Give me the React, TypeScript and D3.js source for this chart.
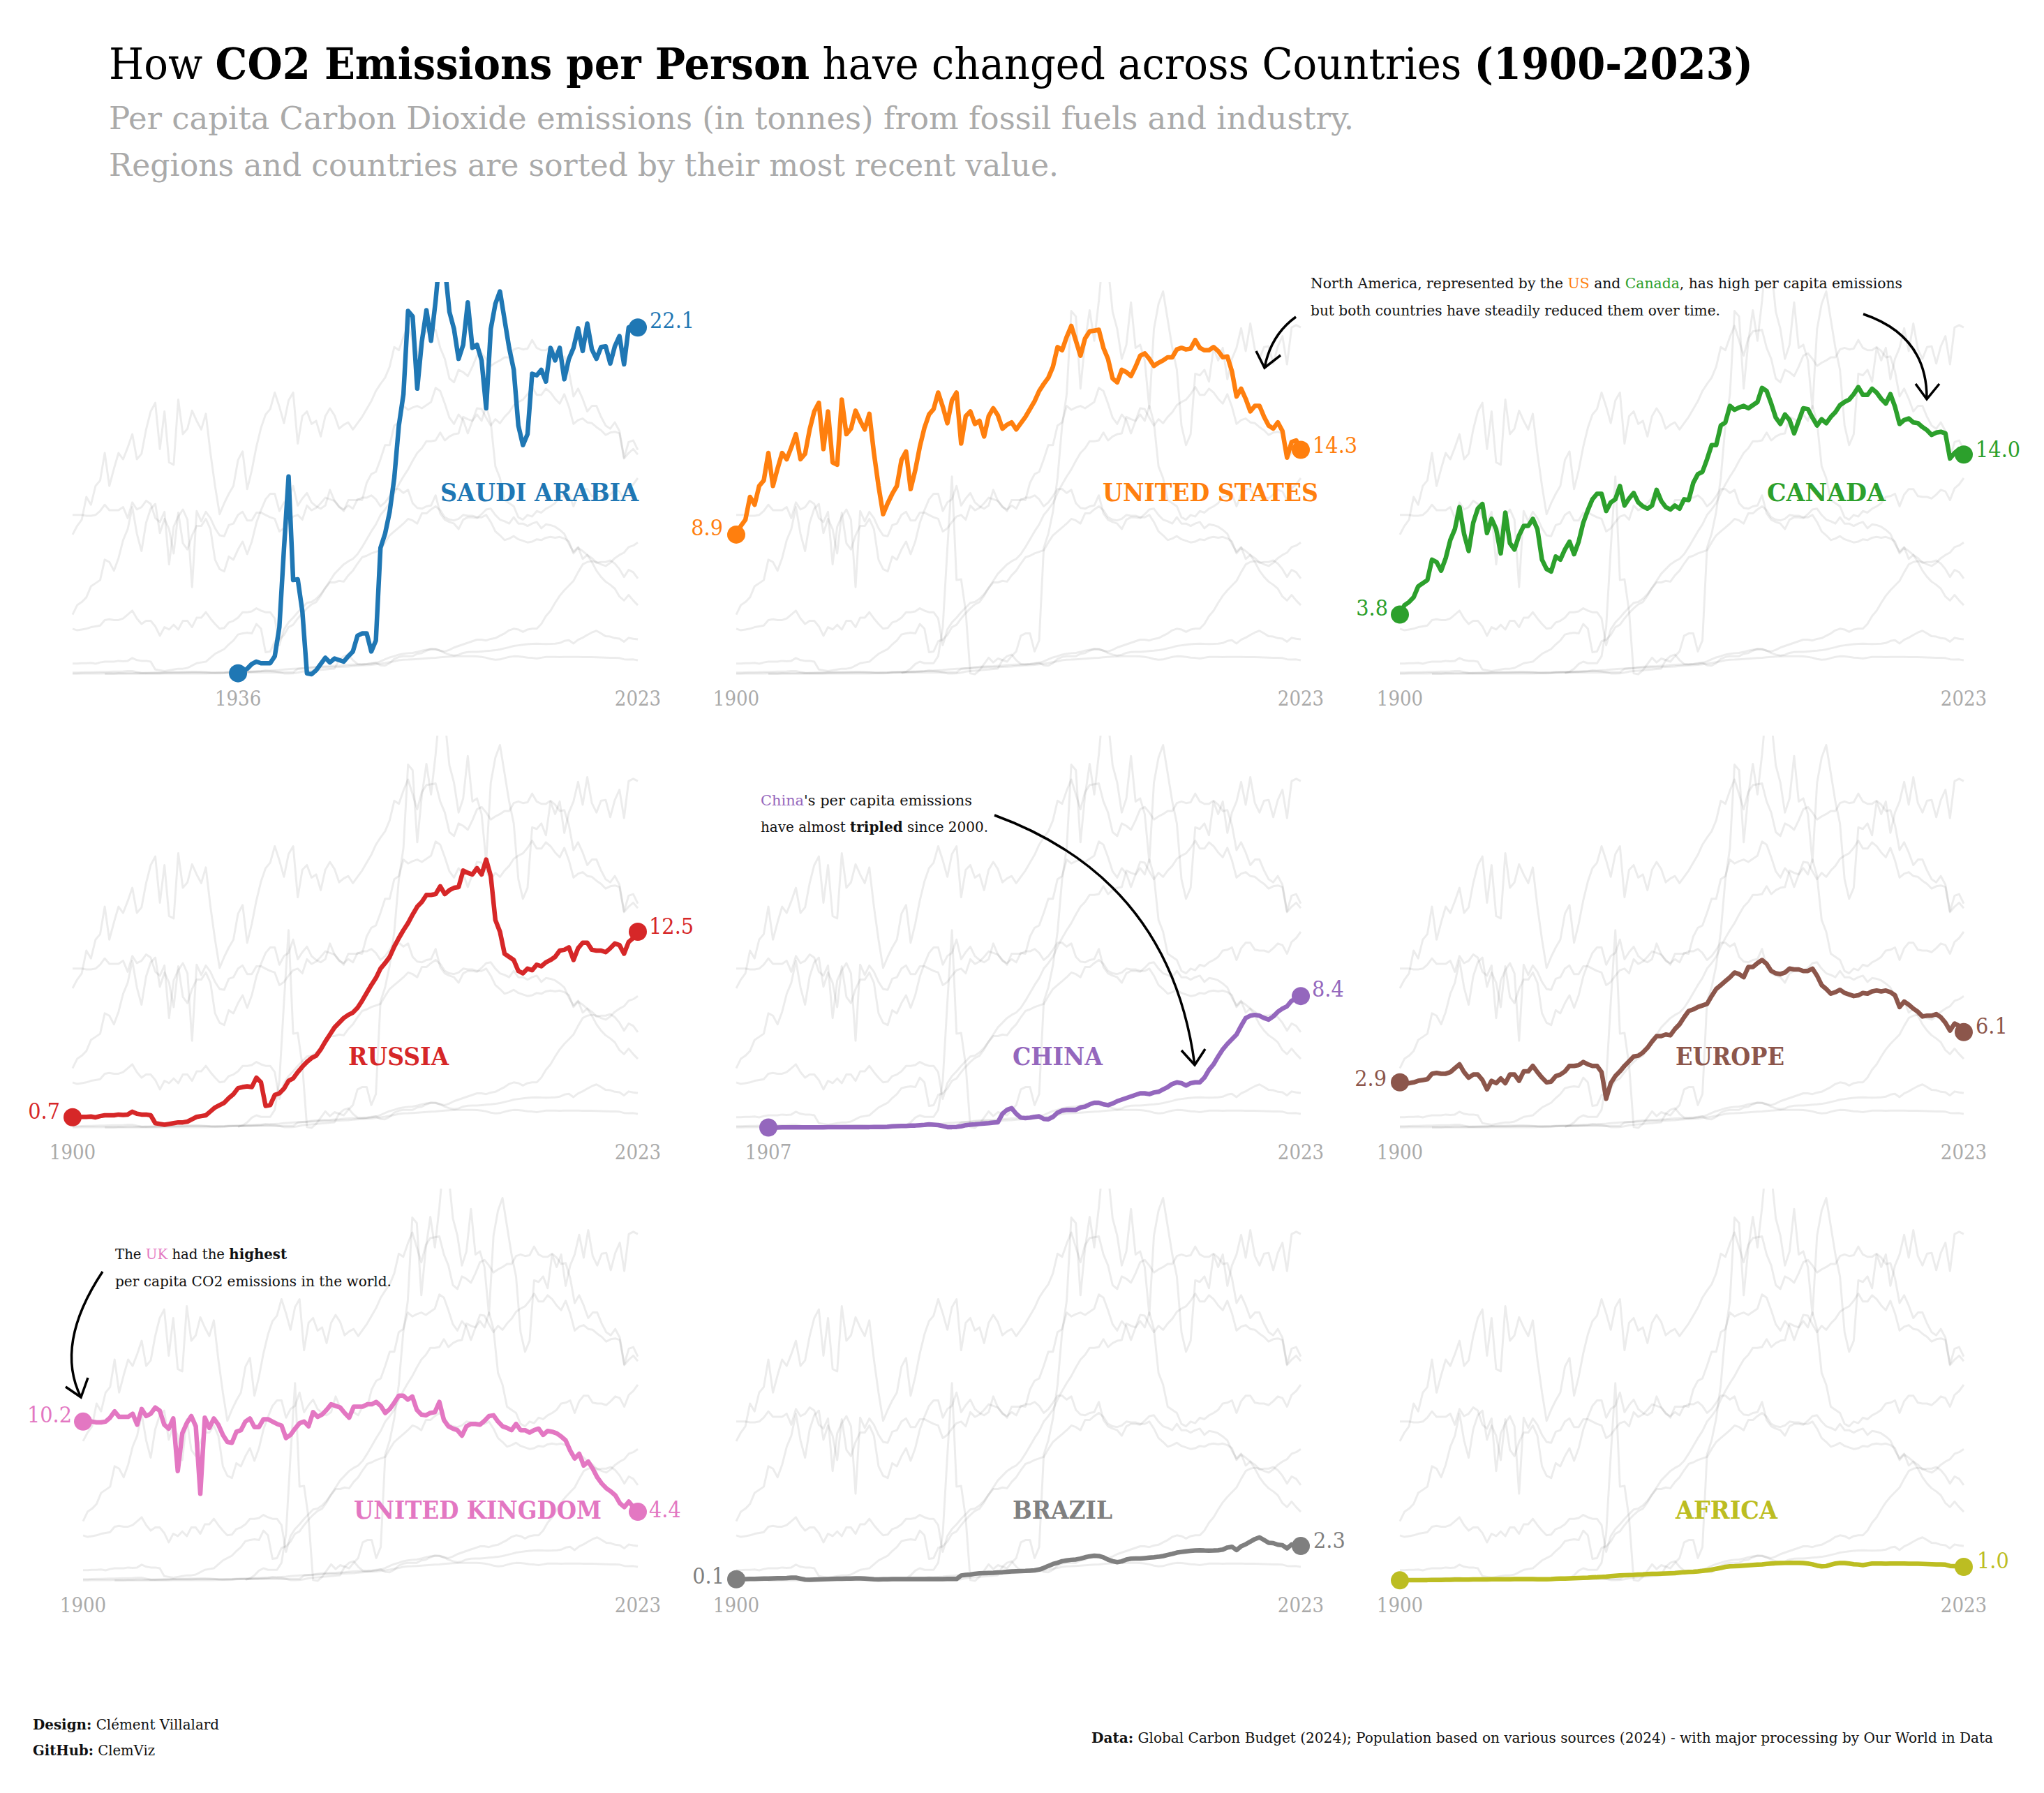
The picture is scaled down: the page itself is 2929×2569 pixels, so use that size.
import * as d3 from 'd3'
import React from 'react'

const W = 2929
const H = 2569

// tonnes of CO2 per person, one value per year
const saudiArabia = [
  0.06, 0.16, 0.35, 0.65, 0.8, 0.7, 0.7, 0.7, 1.15, 3.0, 8.0, 12.6, 6.0, 6.05,
  4.0, 0.05, 0.0, 0.25, 0.65, 1.05, 0.75, 1.0, 0.9, 0.8,
  1.15, 1.45, 2.45, 2.6, 2.6, 1.45, 2.15, 8.05, 8.95, 10.35,
  12.5, 15.85, 17.85, 23.15, 22.8, 18.2, 21.2, 23.2, 21.25, 23.8,
  27.0, 26.0, 23.1, 22.0, 20.1, 21.0, 23.7, 20.8, 21.0, 20.0,
  16.95, 22.0, 23.6, 24.4, 22.6, 20.8, 19.4, 15.85, 14.6, 15.3,
  19.15, 19.05, 19.4, 18.65, 20.8, 20.0, 20.8, 18.8, 20.1, 20.8,
  22.05, 20.6, 22.35, 20.7, 20.1, 20.85, 20.9, 19.8, 20.9, 21.55,
  19.75, 22.1, 22.25, 22.1,
]
const unitedStates = [
  8.9, 9.45, 9.85, 11.3, 10.8, 12.0, 12.35, 14.1, 12.0, 13.1,
  14.1, 13.7, 14.45, 15.3, 13.7, 14.05, 15.6, 16.75, 17.3, 14.35,
  16.75, 13.5, 13.35, 17.5, 15.3, 15.65, 16.8, 16.15, 15.6, 16.6,
  14.1, 12.0, 10.2, 10.9, 11.5, 12.0, 13.65, 14.2, 11.8, 13.0,
  14.5, 15.7, 16.55, 16.9, 17.95, 17.05, 16.0, 17.45, 17.95, 14.7,
  16.45, 16.75, 15.95, 16.15, 15.15, 16.45, 16.95, 16.5, 15.65, 15.9,
  16.05, 15.6, 16.0, 16.4, 16.9, 17.4, 18.05, 18.5, 18.9, 19.6,
  20.85, 20.65, 21.5, 22.2, 21.25, 20.3, 21.4, 21.85, 21.9, 21.95,
  20.8, 20.1, 18.85, 18.6, 19.4, 19.25, 19.0, 19.6, 20.3, 20.45,
  20.1, 19.65, 19.85, 20.0, 20.2, 20.2, 20.7, 20.8, 20.7, 20.75,
  21.3, 20.8, 20.65, 20.65, 20.85, 20.6, 20.2, 20.25, 19.3, 17.7,
  18.2, 17.55, 16.75, 17.1, 17.1, 16.4, 15.85, 15.65, 16.05, 15.5,
  13.8, 14.8, 14.9, 14.3,
]
const canada = [
  3.8, 4.4, 4.6, 4.9, 5.6, 5.8, 6.0, 7.3, 7.15, 6.6,
  7.4, 8.55, 9.25, 10.65, 8.95, 7.85, 9.65, 10.55, 10.85, 9.0,
  9.9, 9.25, 7.7, 10.3, 8.35, 7.95, 8.85, 9.45, 9.45, 9.9,
  9.25, 7.3, 6.7, 6.55, 7.5, 7.3, 7.95, 8.45, 7.65, 8.45,
  9.65, 10.45, 11.15, 11.5, 11.5, 10.4, 10.95, 11.15, 12.0, 10.75,
  11.2, 11.55, 10.95, 10.7, 10.55, 10.75, 11.75, 11.05, 10.65, 10.5,
  10.75, 10.55, 11.15, 11.1, 12.2, 12.75, 12.9, 13.7, 14.6, 14.6,
  15.85, 16.05, 17.1, 16.85, 17.0, 17.1, 16.95, 17.15, 17.35, 18.25,
  18.05, 17.25, 16.35, 15.95, 16.55, 16.2, 15.35, 16.15, 16.95, 16.9,
  16.35, 15.85, 16.25, 16.0, 16.4, 16.7, 17.15, 17.35, 17.5, 17.85,
  18.3, 17.8, 17.8, 18.2, 17.95, 17.55, 17.25, 17.85, 17.05, 15.95,
  16.2, 16.3, 16.05, 16.0, 15.75, 15.55, 15.25, 15.4, 15.45, 15.35,
  13.75, 14.1, 14.35, 14.0,
]
const russia = [
  0.68, 0.68, 0.7, 0.7, 0.72, 0.67, 0.75, 0.8, 0.8, 0.8,
  0.85, 0.82, 0.85, 1.03, 0.9, 0.85, 0.85, 0.8, 0.3, 0.25,
  0.2, 0.25, 0.3, 0.35, 0.35, 0.4, 0.55, 0.7, 0.75, 0.8,
  1.05, 1.3, 1.45, 1.6, 1.9, 2.15, 2.53, 2.6, 2.65, 2.6,
  3.2, 2.9, 1.4, 1.45, 2.1, 2.2, 2.5, 3.0, 3.15, 3.55,
  3.9, 4.2, 4.45, 4.6, 5.0, 5.5, 5.95, 6.4, 6.7, 7.0,
  7.2, 7.35, 7.65, 8.1, 8.6, 9.1, 9.55, 10.15, 10.5, 10.9,
  11.55, 12.1, 12.6, 13.05, 13.6, 14.1, 14.4, 14.85, 14.85, 14.9,
  15.4, 14.9, 15.15, 15.3, 15.35, 16.4, 16.25, 16.15, 16.55, 16.15,
  17.1, 16.05, 13.25, 12.5, 11.1, 10.9, 10.7, 10.0, 9.85, 10.15,
  10.05, 10.4, 10.3, 10.55, 10.7, 10.9, 11.3, 11.35, 11.5, 10.7,
  11.45, 11.8, 11.8, 11.35, 11.3, 11.3, 11.2, 11.45, 11.75, 11.65,
  11.1, 11.85, 12.1, 12.5,
]
const china = [
  0.02, 0.02, 0.02,
  0.03, 0.03, 0.03, 0.03, 0.03, 0.03, 0.03, 0.03, 0.03, 0.03,
  0.04, 0.04, 0.04, 0.04, 0.04, 0.05, 0.05, 0.05, 0.05, 0.05,
  0.06, 0.06, 0.06, 0.07, 0.1, 0.11, 0.12, 0.12, 0.14, 0.15,
  0.17, 0.19, 0.22, 0.2, 0.18, 0.12, 0.05, 0.05, 0.06, 0.1,
  0.17, 0.2, 0.22, 0.25, 0.28, 0.3, 0.33, 0.36, 0.9, 1.15,
  1.25, 0.9, 0.65, 0.62, 0.65, 0.7, 0.73, 0.57, 0.55, 0.7,
  0.97, 1.1, 1.15, 1.15, 1.15, 1.3, 1.35, 1.5, 1.6, 1.6,
  1.5, 1.45, 1.55, 1.7, 1.8, 1.9, 2.0, 2.1, 2.2, 2.2,
  2.15, 2.25, 2.3, 2.45, 2.6, 2.8, 2.9, 2.85, 2.7, 2.85,
  2.9, 2.9, 3.2, 3.7, 4.05, 4.55, 5.0, 5.35, 5.65, 5.95,
  6.5, 7.0, 7.15, 7.2, 7.15, 7.0, 6.9, 7.1, 7.4, 7.6,
  7.75, 8.1, 8.2, 8.4,
]
const europe = [
  2.9, 2.8, 2.85, 2.9, 3.0, 3.05, 3.1, 3.45, 3.5, 3.45,
  3.45, 3.55, 3.8, 4.05, 3.55, 3.2, 3.4, 3.4, 3.05, 2.45,
  3.0, 2.85, 3.15, 2.85, 3.4, 3.4, 3.0, 3.6, 3.6, 3.95,
  3.55, 3.2, 2.9, 2.95, 3.3, 3.4, 3.6, 3.95, 3.95, 4.0,
  4.2, 4.05, 3.95, 3.95, 3.55, 1.85, 2.85, 3.3, 3.6, 3.95,
  4.25, 4.55, 4.6, 4.8, 5.1, 5.5, 5.85, 5.85, 5.95, 5.9,
  6.3, 6.6, 7.05, 7.45, 7.55, 7.7, 7.8, 7.9, 8.4, 8.85,
  9.1, 9.35, 9.6, 9.9, 9.8, 9.6, 10.25, 10.25, 10.5, 10.7,
  10.45, 10.0, 9.85, 9.8, 9.9, 10.15, 10.1, 10.1, 10.0, 10.0,
  10.15, 9.7, 9.1, 8.85, 8.55, 8.65, 8.8, 8.6, 8.5, 8.4,
  8.45, 8.6, 8.55, 8.7, 8.75, 8.7, 8.75, 8.65, 8.45, 7.7,
  8.05, 7.85, 7.6, 7.4, 7.1, 7.15, 7.15, 7.25, 7.05, 6.7,
  6.2, 6.65, 6.5, 6.1,
]
const unitedKingdom = [
  10.15, 10.15, 10.15, 10.1, 10.1, 10.15, 10.4, 10.8, 10.45, 10.45,
  10.45, 10.65, 9.95, 10.95, 10.5, 10.65, 11.05, 10.85, 9.95, 9.7,
  10.35, 7.0, 9.4, 10.05, 10.5, 9.85, 5.55, 10.4, 9.75, 10.35,
  9.95, 9.3, 8.85, 8.8, 9.5, 9.6, 10.15, 10.35, 9.8, 9.8,
  10.3, 10.3, 10.15, 10.0, 9.9, 9.1, 9.3, 9.7, 10.05, 10.15,
  9.85, 10.75, 10.45, 10.6, 10.9, 11.25, 11.15, 11.05, 10.7, 10.4,
  11.1, 11.1, 11.1, 11.25, 11.25, 11.4, 11.15, 10.7, 10.95, 11.35,
  11.8, 11.8, 11.55, 11.75, 10.9, 10.6, 10.55, 10.7, 10.75, 11.4,
  10.25, 9.85, 9.7, 9.6, 9.25, 9.85, 10.0, 10.0, 9.95, 10.2,
  10.5, 10.55, 10.15, 9.85, 9.75, 9.6, 10.0, 9.6, 9.6, 9.45,
  9.6, 9.7, 9.3, 9.55, 9.5, 9.4, 9.2, 8.95, 8.3, 7.8,
  8.1, 7.35, 7.6, 7.15, 6.6, 6.2, 5.9, 5.7, 5.45, 4.95,
  4.7, 5.05, 4.7, 4.4,
]
const brazil = [
  0.1, 0.1, 0.11, 0.12, 0.12, 0.13, 0.14, 0.15, 0.16, 0.17,
  0.17, 0.18, 0.2, 0.2, 0.14, 0.08, 0.07, 0.08, 0.09, 0.1,
  0.11, 0.12, 0.13, 0.13, 0.14, 0.15, 0.16, 0.16, 0.14, 0.12,
  0.1, 0.09, 0.1, 0.1, 0.11, 0.11, 0.11, 0.11, 0.11, 0.11,
  0.11, 0.11, 0.11, 0.11, 0.11, 0.11, 0.12, 0.12, 0.12, 0.34,
  0.38, 0.4, 0.45, 0.48, 0.49, 0.5, 0.51, 0.53, 0.55, 0.58,
  0.6, 0.61, 0.62, 0.63, 0.65, 0.67, 0.72, 0.82, 0.95, 1.07,
  1.15, 1.25, 1.3, 1.34, 1.36, 1.42, 1.5, 1.56, 1.6, 1.58,
  1.5, 1.35, 1.25, 1.19, 1.24, 1.36, 1.41, 1.42, 1.42, 1.45,
  1.48, 1.5, 1.53, 1.58, 1.65, 1.72, 1.8, 1.84, 1.88, 1.91,
  1.93, 1.95, 1.93, 1.92, 1.93, 1.95, 1.99, 2.12, 2.17, 1.96,
  2.2, 2.33, 2.5, 2.66, 2.77, 2.6, 2.42, 2.4, 2.3, 2.27,
  2.07, 2.32, 2.26, 2.22,
]
const africa = [
  0.03, 0.03, 0.04, 0.04, 0.04, 0.05, 0.05, 0.06, 0.06, 0.06,
  0.07, 0.07, 0.08, 0.08, 0.08, 0.08, 0.09, 0.09, 0.09, 0.09,
  0.1, 0.1, 0.1, 0.1, 0.1, 0.11, 0.11, 0.11, 0.11, 0.11,
  0.1, 0.1, 0.1, 0.11, 0.13, 0.14, 0.15, 0.16, 0.17, 0.18,
  0.19, 0.2, 0.22, 0.23, 0.25, 0.27, 0.3, 0.32, 0.34, 0.36,
  0.37, 0.38, 0.4, 0.41, 0.43, 0.44, 0.45, 0.46, 0.47, 0.48,
  0.49, 0.52, 0.55, 0.57, 0.58, 0.6, 0.63, 0.67, 0.71, 0.77,
  0.82, 0.89, 0.92, 0.93, 0.95, 0.97, 0.99, 1.01, 1.03, 1.05,
  1.08, 1.1, 1.12, 1.13, 1.14, 1.15, 1.15, 1.15, 1.13, 1.1,
  1.05, 0.97, 0.92, 0.94, 1.03, 1.1, 1.14, 1.13, 1.1, 1.06,
  1.04, 1.0, 1.05, 1.1, 1.1, 1.1, 1.09, 1.1, 1.1, 1.1,
  1.1, 1.09, 1.09, 1.09, 1.08, 1.07, 1.06, 1.05, 1.04, 1.03,
  0.95, 0.93, 0.94, 0.89,
]

const seriesValues = [saudiArabia, unitedStates, canada, russia, china, europe, unitedKingdom, brazil, africa]
const startYears = [1936, 1900, 1900, 1900, 1907, 1900, 1900, 1900, 1900]
const names = ['SAUDI ARABIA', 'UNITED STATES', 'CANADA', 'RUSSIA', 'CHINA', 'EUROPE', 'UNITED KINGDOM', 'BRAZIL', 'AFRICA']
const colors = ['#1f77b4', '#ff7f0e', '#2ca02c', '#d62728', '#9467bd', '#8c564b', '#e377c2', '#7f7f7f', '#bcbd22']
const startLabels = ['', '8.9', '3.8', '0.7', '', '2.9', '10.2', '0.1', '']
const endLabels = ['22.1', '14.3', '14.0', '12.5', '8.4', '6.1', '4.4', '2.3', '1.0']

// panel geometry, same order as the series
const xRanges = [[104, 914], [1055, 1864], [2006, 2814], [104, 914], [1055, 1864], [2006, 2814], [119, 914], [1055, 1864], [2006, 2814]]
const baselines = [966, 966, 966, 1616, 1616, 1616, 2265, 2265, 2265]
const panelHeight = 562
const nameBoxes = [[631, 284, 705], [1580, 309, 705], [2532, 170, 705], [499, 144, 1513], [1451, 129, 1513], [2401, 156, 1513], [507, 355, 2163], [1451, 143, 2163], [2401, 146, 2163]]
// value label: anchor x and vertical centre
const startLabelPos = [[0, 0], [1036, 755], [1989, 870], [86, 1591], [0, 0], [1987, 1544], [103, 2026], [1038, 2257], [0, 0]]
const endLabelPos = [[931, 458], [1881, 637], [2831, 643], [930, 1326], [1880, 1416], [2831, 1469], [930, 2162], [1882, 2206], [2833, 2235]]

const y = d3.scaleLinear().domain([0, 25]).range([0, panelHeight])

const serif = '"DejaVu Serif", serif'
const condensed = { fontFamily: serif, fontStretch: 'condensed' as const }

const arrows = [
  { d: 'M1857,454 Q1821,480 1812,527', head: 'M1800,503 L1812,527 L1835,509' },
  { d: 'M2670,450 Q2762,481 2761,572', head: 'M2745,550 L2761,572 L2779,550' },
  { d: 'M1425,1168 Q1677,1260 1712,1526', head: 'M1693,1505 L1712,1526 L1727,1503' },
  { d: 'M147,1822 Q78,1926 116,2002', head: 'M94,1987 L116,2002 L126,1974' },
]

const Panel = ({ index }: { index: number }) => {
  const [x0, x1] = xRanges[index]
  const base = baselines[index]
  const x = d3.scaleLinear().domain([1900, 2023]).range([x0, x1])
  const yy = (v: number) => base - y(v)
  const line = (values: number[], start: number) =>
    d3
      .line<number>()
      .x((_, i) => x(start + i))
      .y(v => yy(v))(values) as string
  const values = seriesValues[index]
  const start = startYears[index]
  const color = colors[index]
  const last = values[values.length - 1]
  const box = nameBoxes[index]
  const clipId = `clip-${index}`
  return (
    <g>
      <clipPath id={clipId}>
        <rect x={x0 - 20} y={base - panelHeight} width={x1 - x0 + 40} height={panelHeight + 20} />
      </clipPath>
      <g clipPath={`url(#${clipId})`} fill="none" strokeLinejoin="round">
        {seriesValues.map((s, i) => (
          <path key={i} d={line(s, startYears[i])} stroke="#000" strokeOpacity={0.075} strokeWidth={3} />
        ))}
        <path d={line(values, start)} stroke={color} strokeWidth={6.5} />
      </g>
      <circle cx={x(start)} cy={yy(values[0])} r={13} fill={color} />
      <circle cx={x(2023)} cy={yy(last)} r={13} fill={color} />
      <text x={x(start)} y={base + 45} textAnchor="middle" fontSize={29} fill="#aaaaaa" style={condensed}>
        {start}
      </text>
      <text x={x(2023)} y={base + 45} textAnchor="middle" fontSize={29} fill="#aaaaaa" style={condensed}>
        2023
      </text>
      <text x={box[0]} y={box[2] + 13} textLength={box[1]} lengthAdjust="spacingAndGlyphs" fontSize={36} fontWeight={700} fill={color} style={condensed}>
        {names[index]}
      </text>
      {startLabels[index] && (
        <text x={startLabelPos[index][0]} y={startLabelPos[index][1] + 12} textAnchor="end" fontSize={32} fill={color} style={condensed}>
          {startLabels[index]}
        </text>
      )}
      <text x={endLabelPos[index][0]} y={endLabelPos[index][1] + 12} fontSize={32} fill={color} style={condensed}>
        {endLabels[index]}
      </text>
    </g>
  )
}

const note = { fontSize: 20.5, fill: '#111', style: condensed }

export default function App() {
  return (
    <svg width={W} height={H} viewBox={`0 0 ${W} ${H}`} style={{ position: 'absolute', left: 0, top: 0, display: 'block', background: '#fff' }}>
      <text x={156} y={113} textLength={2356} lengthAdjust="spacingAndGlyphs" fontSize={62} fill="#000" style={condensed}>
        How <tspan fontWeight={700}>CO2 Emissions per Person</tspan> have changed across Countries <tspan fontWeight={700}>(1900-2023)</tspan>
      </text>
      <text x={156} y={185} textLength={1784} lengthAdjust="spacingAndGlyphs" fontSize={44} fill="#aaaaaa" style={condensed}>
        Per capita Carbon Dioxide emissions (in tonnes) from fossil fuels and industry.
      </text>
      <text x={156} y={252} textLength={1361} lengthAdjust="spacingAndGlyphs" fontSize={44} fill="#aaaaaa" style={condensed}>
        Regions and countries are sorted by their most recent value.
      </text>

      {seriesValues.map((_, i) => (
        <Panel key={i} index={i} />
      ))}

      <text x={1878} y={413} textLength={848} lengthAdjust="spacingAndGlyphs" {...note}>
        North America, represented by the <tspan fill={colors[1]}>US</tspan> and <tspan fill={colors[2]}>Canada</tspan>, has high per capita emissions
      </text>
      <text x={1878} y={452} textLength={587} lengthAdjust="spacingAndGlyphs" {...note}>
        but both countries have steadily reduced them over time.
      </text>
      <text x={1090} y={1154} textLength={303} lengthAdjust="spacingAndGlyphs" {...note}>
        <tspan fill={colors[4]}>China</tspan>'s per capita emissions
      </text>
      <text x={1090} y={1192} textLength={326} lengthAdjust="spacingAndGlyphs" {...note}>
        have almost <tspan fontWeight={700}>tripled</tspan> since 2000.
      </text>
      <text x={165} y={1804} textLength={246} lengthAdjust="spacingAndGlyphs" {...note}>
        The <tspan fill={colors[6]}>UK</tspan> had the <tspan fontWeight={700}>highest</tspan>
      </text>
      <text x={165} y={1843} textLength={396} lengthAdjust="spacingAndGlyphs" {...note}>
        per capita CO2 emissions in the world.
      </text>

      {arrows.map((a, i) => (
        <g key={i} fill="none" stroke="#000" strokeWidth={3.5}>
          <path d={a.d} />
          <path d={a.head} />
        </g>
      ))}

      <text x={47} y={2478} textLength={267} lengthAdjust="spacingAndGlyphs" {...note}>
        <tspan fontWeight={700}>Design:</tspan> Clément Villalard
      </text>
      <text x={47} y={2515} textLength={175} lengthAdjust="spacingAndGlyphs" {...note}>
        <tspan fontWeight={700}>GitHub:</tspan> ClemViz
      </text>
      <text x={1564} y={2497} textLength={1292} lengthAdjust="spacingAndGlyphs" {...note}>
        <tspan fontWeight={700}>Data:</tspan> Global Carbon Budget (2024); Population based on various sources (2024) - with major processing by Our World in Data
      </text>
    </svg>
  )
}
